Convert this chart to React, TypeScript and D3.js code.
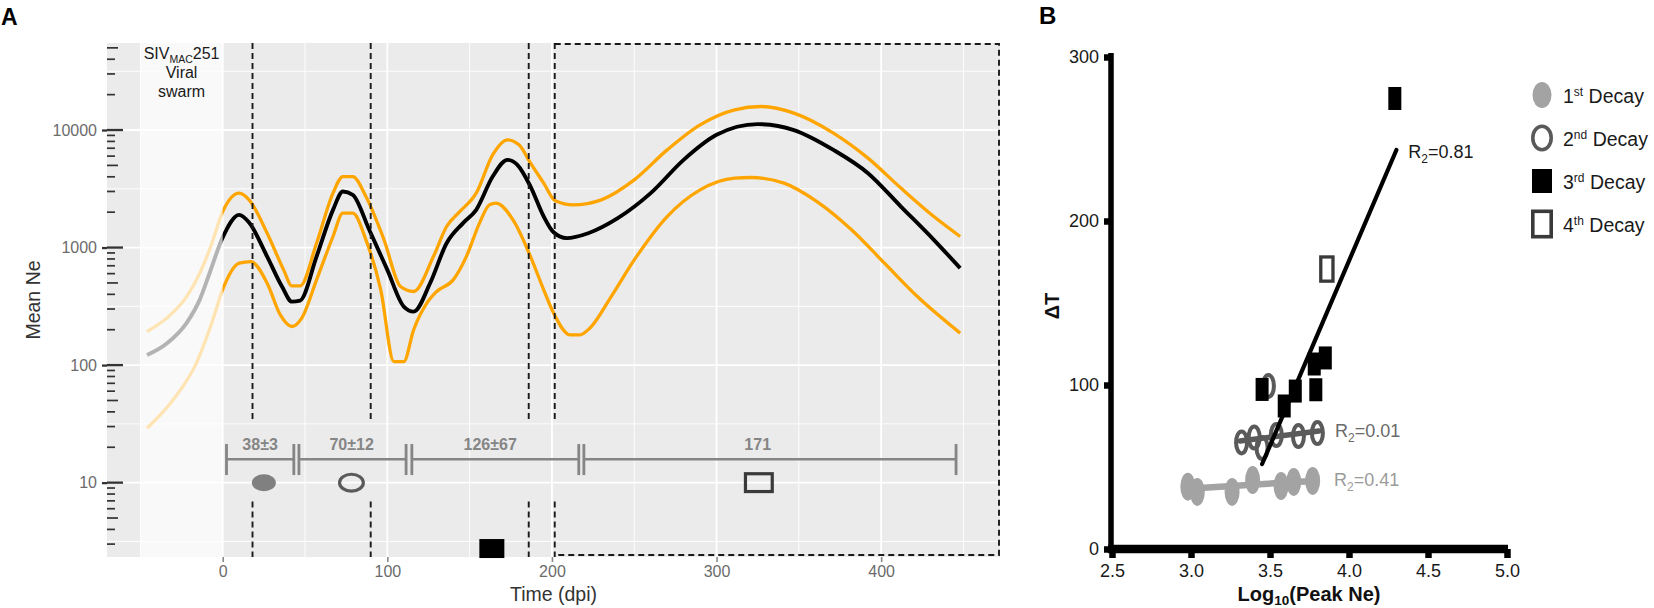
import * as d3 from "d3";
import { useEffect, useRef } from "react";

type Pt = [number, number];

// ---------- Panel A: effective population size over time (dpi, Ne) ----------
const meanNe: Pt[] = [
  [-46, 122], [-34, 153], [-22, 228], [-14, 359], [-8, 605], [0, 1220],
  [10, 1897], [16, 1633], [27, 838], [36, 466], [42, 347], [47, 354],
  [57, 838], [67, 2094], [73, 3000], [79, 2812], [89, 1416], [100, 646],
  [110, 315], [116, 285], [126, 498], [136, 1089], [146, 1614], [154, 2094],
  [164, 4018], [173, 5572], [179, 5058], [187, 3304], [195, 1837], [201, 1349],
  [209, 1202], [222, 1324], [240, 1778], [260, 2904], [280, 5572], [300, 9099],
  [325, 11220], [347, 10000], [371, 6776], [392, 4295], [412, 2234], [432, 1164],
  [448, 668],
];

const upperNe: Pt[] = [
  [-46, 193], [-34, 251], [-22, 380], [-14, 603], [-7, 1047], [0, 2023],
  [10, 2904], [16, 2547], [27, 1324], [37, 646], [42, 472], [47, 472],
  [57, 1089], [67, 2904], [73, 4018], [79, 4018], [87, 2716], [98, 1164],
  [108, 466], [116, 423], [128, 838], [136, 1510], [144, 2023], [154, 2904],
  [164, 6152], [173, 8260], [180, 7482], [187, 5224], [195, 3532], [202, 2500],
  [213, 2307], [230, 2547], [250, 3767], [270, 6776], [290, 11066], [311, 14860],
  [327, 15850], [347, 13930], [371, 9419], [392, 5768], [412, 3206], [432, 1837],
  [448, 1242],
];

const lowerNe: Pt[] = [
  [-46, 29], [-30, 51], [-16, 104], [-6, 243], [0, 440], [10, 736],
  [17, 760], [27, 498], [35, 267], [42, 213], [48, 251], [57, 531],
  [67, 1242], [73, 1963], [79, 1963], [87, 1164], [96, 437], [104, 107],
  [110, 107], [116, 200], [124, 337], [130, 423], [140, 531], [148, 838],
  [156, 1614], [162, 2307], [166, 2388], [177, 1663], [187, 838], [195, 437],
  [201, 277], [211, 181], [217, 181], [223, 206], [236, 383], [250, 785],
  [270, 1837], [290, 3097], [311, 3899], [321, 3945], [341, 3532], [361, 2460],
  [382, 1416], [402, 736], [422, 383], [448, 187],
];

const swarmRange = [-50, 0];
const decayBoundaries = [18.1, 89.9, 185.9];
const lateBoxStart = 201.7;
const dashGapNe = [33, 6.9];

const intervalStart = [2.3, 46.3, 114.9, 219.4];
const intervalEnd = [43.2, 111.4, 216.3, 445.5];
const intervalLabel = ["38±3", "70±12", "126±67", "171"];
const intervalLabelDpi = [22.7, 78.3, 162.5, 325];
const intervalNe = 15.8;
const intervalCapNe = [21.3, 11.6];
const intervalLabelNe = 19;

const decayMarkerDpi = [25, 78.2, 163.5, 325.7];
const decayMarkerNe = [10, 10, 2.75, 10];

const xTicksA = [0, 100, 200, 300, 400];
const xMinorA = [-50, 50, 150, 250, 350, 450];
const yTicksA = [10, 100, 1000, 10000];

// ---------- Panel B: decay duration vs peak Ne ----------
const decayOrdinal = ["st", "nd", "rd", "th"];
const decay1: Pt[] = [[2.98, 38], [3.04, 34.8], [3.26, 34.8], [3.39, 42], [3.57, 38.4], [3.65, 40.9], [3.77, 41.5]];
const decay2: Pt[] = [[3.32, 65], [3.4, 68], [3.45, 61.6], [3.49, 99.4], [3.54, 69.5], [3.68, 68.9], [3.8, 70.7]];
const decay3: Pt[] = [[3.45, 97.3], [3.59, 87.2], [3.66, 96.3], [3.79, 97.1], [3.78, 112.8], [3.85, 116.5], [4.29, 274.7]];
const decay4: Pt[] = [[3.86, 170.7]];
const fit1: Pt[] = [[2.98, 36.8], [3.77, 41.5]];
const fit2: Pt[] = [[3.31, 65.9], [3.81, 71.9]];
const fit3: Pt[] = [[3.45, 51.8], [4.3, 243.3]];
const r2Values = ["0.41", "0.01", "0.81"];
const r2Anchor: Pt[] = [[3.905, 38.6], [3.911, 68.1], [4.375, 238.2]];
const xTicksB = [2.5, 3, 3.5, 4, 4.5, 5];
const yTicksB = [0, 100, 200, 300];

const FONT = "'Liberation Sans', Arial, Helvetica, sans-serif";

type Sel = d3.Selection<SVGGElement, unknown, null, undefined>;

function marker(g: Sel, kind: number, cx: number, cy: number, w: number, h: number, sw: number) {
  if (kind === 0) {
    g.append("ellipse").attr("cx", cx).attr("cy", cy).attr("rx", w / 2).attr("ry", h / 2).attr("fill", "#a3a3a3");
  } else if (kind === 1) {
    g.append("ellipse").attr("cx", cx).attr("cy", cy).attr("rx", (w - sw) / 2).attr("ry", (h - sw) / 2)
      .attr("fill", "none").attr("stroke", "#5a5a5a").attr("stroke-width", sw);
  } else if (kind === 2) {
    g.append("rect").attr("x", cx - w / 2).attr("y", cy - h / 2).attr("width", w).attr("height", h).attr("fill", "#000");
  } else {
    g.append("rect").attr("x", cx - (w - sw) / 2).attr("y", cy - (h - sw) / 2).attr("width", w - sw).attr("height", h - sw)
      .attr("fill", "none").attr("stroke", "#3a3a3a").attr("stroke-width", sw);
  }
}

export default function App() {
  const ref = useRef<SVGSVGElement>(null);

  useEffect(() => {
    if (!ref.current) return;
    const svg = d3.select(ref.current);
    svg.selectAll("*").remove();
    svg.attr("width", 1654).attr("height", 608).attr("viewBox", "0 0 1654 608").style("font-family", FONT);
    svg.append("rect").attr("width", 1654).attr("height", 608).attr("fill", "#fff");

    // ================= Panel A =================
    const xA = d3.scaleLinear().domain([-70.3, 472.2]).range([107, 1000]);
    const yA = d3.scaleLog().domain([2.33, 55000]).range([557, 43]);
    const [l, r] = xA.range();
    const [b, t] = yA.range();
    const A = svg.append("g");

    A.append("rect").attr("x", l).attr("y", t).attr("width", r - l).attr("height", b - t).attr("fill", "#ebebeb");

    const yMinorA = [Math.sqrt(10), ...yTicksA.map((v) => v * Math.sqrt(10))];
    A.append("g").selectAll("line").data(yMinorA).join("line")
      .attr("x1", l).attr("x2", r).attr("y1", (d) => yA(d)).attr("y2", (d) => yA(d))
      .attr("stroke", "#fff").attr("stroke-width", 0.9);
    A.append("g").selectAll("line").data(xMinorA).join("line")
      .attr("x1", (d) => xA(d)).attr("x2", (d) => xA(d)).attr("y1", t).attr("y2", b)
      .attr("stroke", "#fff").attr("stroke-width", 0.9);
    A.append("g").selectAll("line").data(yTicksA).join("line")
      .attr("x1", l).attr("x2", r).attr("y1", (d) => yA(d)).attr("y2", (d) => yA(d))
      .attr("stroke", "#fff").attr("stroke-width", 1.8);
    A.append("g").selectAll("line").data(xTicksA).join("line")
      .attr("x1", (d) => xA(d)).attr("x2", (d) => xA(d)).attr("y1", t).attr("y2", b)
      .attr("stroke", "#fff").attr("stroke-width", 1.8);

    const line = d3.line<Pt>().x((d) => xA(d[0])).y((d) => yA(d[1])).curve(d3.curveMonotoneX);
    [lowerNe, upperNe].forEach((s) =>
      A.append("path").datum(s).attr("d", line).attr("fill", "none").attr("stroke", "#ffa500")
        .attr("stroke-width", 3.3).attr("stroke-linejoin", "round")
    );
    A.append("path").datum(meanNe).attr("d", line).attr("fill", "none").attr("stroke", "#000")
      .attr("stroke-width", 3.9).attr("stroke-linejoin", "round");

    // faded viral swarm region
    A.append("rect").attr("x", xA(swarmRange[0])).attr("y", t)
      .attr("width", xA(swarmRange[1]) - xA(swarmRange[0])).attr("height", b - t)
      .attr("fill", "#fff").attr("opacity", 0.7);

    // dashed separators
    const dash = { stroke: "#1a1a1a", w: 1.9, d: "6,4" };
    [...decayBoundaries, lateBoxStart].forEach((v) => {
      [[t, yA(dashGapNe[0])], [yA(dashGapNe[1]), b]].forEach(([y1, y2]) =>
        A.append("line").attr("x1", xA(v)).attr("x2", xA(v)).attr("y1", y1).attr("y2", y2)
          .attr("stroke", dash.stroke).attr("stroke-width", dash.w).attr("stroke-dasharray", dash.d)
      );
    });
    A.append("path")
      .attr("d", `M${xA(lateBoxStart)},${t + 1}H${r - 1}V${b - 2}H${xA(lateBoxStart)}`)
      .attr("fill", "none").attr("stroke", dash.stroke).attr("stroke-width", dash.w).attr("stroke-dasharray", dash.d);

    // decay interval bars
    const ig = A.append("g").attr("stroke", "#858585");
    intervalStart.forEach((s, i) => {
      const e = intervalEnd[i];
      ig.append("line").attr("x1", xA(s)).attr("x2", xA(e)).attr("y1", yA(intervalNe)).attr("y2", yA(intervalNe))
        .attr("stroke-width", 2.4);
      [s, e].forEach((v) =>
        ig.append("line").attr("x1", xA(v)).attr("x2", xA(v))
          .attr("y1", yA(intervalCapNe[0])).attr("y2", yA(intervalCapNe[1])).attr("stroke-width", 2.8)
      );
      A.append("text").attr("x", xA(intervalLabelDpi[i])).attr("y", yA(intervalLabelNe))
        .attr("text-anchor", "middle").attr("font-size", 16).attr("font-weight", "bold")
        .attr("fill", "#858585").text(intervalLabel[i]);
    });

    const mg = A.append("g");
    const markerSizeA: Pt[] = [[24, 17], [27, 20], [25, 19], [30, 21]];
    decayMarkerDpi.forEach((v, i) => {
      const g = mg as unknown as Sel;
      if (i === 0) {
        mg.append("ellipse").attr("cx", xA(v)).attr("cy", yA(decayMarkerNe[i]))
          .attr("rx", markerSizeA[i][0] / 2).attr("ry", markerSizeA[i][1] / 2).attr("fill", "#808080");
      } else {
        marker(g, i, xA(v), yA(decayMarkerNe[i]), markerSizeA[i][0], markerSizeA[i][1], 3.2);
      }
    });

    // swarm annotation
    const sw = A.append("text").attr("x", xA((swarmRange[0] + swarmRange[1]) / 2)).attr("y", 59)
      .attr("text-anchor", "middle").attr("font-size", 16).attr("fill", "#1a1a1a");
    sw.append("tspan").text("SIV");
    sw.append("tspan").attr("font-size", 10.5).attr("dy", 4).text("MAC");
    sw.append("tspan").attr("dy", -4).text("251");
    A.append("text").attr("x", xA(-25)).attr("y", 78).attr("text-anchor", "middle").attr("font-size", 16)
      .attr("fill", "#1a1a1a").text("Viral");
    A.append("text").attr("x", xA(-25)).attr("y", 97).attr("text-anchor", "middle").attr("font-size", 16)
      .attr("fill", "#1a1a1a").text("swarm");

    // y axis (labels + outer ticks)
    A.append("g").attr("transform", `translate(${l},0)`)
      .call(d3.axisLeft(yA).tickValues(yTicksA).tickFormat(d3.format("d")).tickSize(5).tickPadding(5))
      .call((g) => g.select(".domain").remove())
      .call((g) => g.selectAll("line").attr("stroke", "#333").attr("stroke-width", 2.3))
      .call((g) => g.selectAll("text").attr("font-size", 16).attr("fill", "#6b6b6b").attr("font-family", FONT));

    // log ticks inside panel
    const logTicks: { v: number; m: number }[] = [];
    for (let k = 0; k <= 4; k++) {
      for (let m = 1; m <= 9; m++) {
        const v = m * Math.pow(10, k);
        if (v >= yA.domain()[0] && v <= yA.domain()[1]) logTicks.push({ v, m });
      }
    }
    A.append("g").selectAll("line").data(logTicks).join("line")
      .attr("x1", l).attr("x2", (d) => l + (d.m === 1 ? 16 : d.m === 5 ? 11 : 8))
      .attr("y1", (d) => yA(d.v)).attr("y2", (d) => yA(d.v))
      .attr("stroke", "#333").attr("stroke-width", (d) => (d.m === 1 ? 2.3 : 1.7));

    // x axis
    A.append("g").attr("transform", `translate(0,${b})`)
      .call(d3.axisBottom(xA).tickValues(xTicksA).tickSize(5).tickPadding(4))
      .call((g) => g.select(".domain").remove())
      .call((g) => g.selectAll("line").attr("stroke", "#8a8a8a").attr("stroke-width", 1.6))
      .call((g) => g.selectAll("text").attr("font-size", 16).attr("fill", "#6b6b6b").attr("font-family", FONT));

    A.append("text").attr("x", (l + r) / 2).attr("y", 601).attr("text-anchor", "middle")
      .attr("font-size", 19.5).attr("fill", "#333").text("Time (dpi)");
    A.append("text").attr("transform", `translate(40,${(t + b) / 2}) rotate(-90)`).attr("text-anchor", "middle")
      .attr("font-size", 19.5).attr("fill", "#333").text("Mean Ne");
    svg.append("text").attr("x", 1).attr("y", 25).attr("font-size", 23).attr("font-weight", "bold")
      .attr("fill", "#000").text("A");

    // ================= Panel B =================
    const xB = d3.scaleLinear().domain([2.5, 5]).range([1112, 1507]);
    const yB = d3.scaleLinear().domain([0, 300]).range([549, 57]);
    const B = svg.append("g");

    B.append("g").attr("transform", "translate(1111,0)")
      .call(d3.axisLeft(yB).tickValues(yTicksB).tickSizeInner(7).tickSizeOuter(0).tickPadding(5))
      .call((g) => g.select(".domain").remove())
      .call((g) => g.selectAll("line").attr("stroke", "#000").attr("stroke-width", 6.5))
      .call((g) => g.selectAll("text").attr("font-size", 18).attr("fill", "#1a1a1a").attr("font-family", FONT));
    B.append("g").attr("transform", "translate(0,549)")
      .call(d3.axisBottom(xB).tickValues(xTicksB).tickFormat(d3.format(".1f")).tickSizeInner(9).tickSizeOuter(0).tickPadding(6))
      .call((g) => g.select(".domain").remove())
      .call((g) => g.selectAll("line").attr("stroke", "#000").attr("stroke-width", 6.5))
      .call((g) => g.selectAll("text").attr("font-size", 18).attr("fill", "#1a1a1a").attr("font-family", FONT));
    B.append("line").attr("x1", 1111).attr("x2", 1111).attr("y1", yB(300) - 4).attr("y2", yB(0))
      .attr("stroke", "#000").attr("stroke-width", 5.5);
    B.append("line").attr("x1", 1108).attr("x2", xB(5) + 1).attr("y1", yB(0)).attr("y2", yB(0))
      .attr("stroke", "#000").attr("stroke-width", 8.5);

    const pts = B.append("g") as unknown as Sel;
    const sizesB: Pt[] = [[15, 28], [15, 26], [13, 23], [15.5, 27.5]];
    const strokeB = [0, 4, 0, 3.3];
    [decay1, decay2, decay3, decay4].forEach((s, k) =>
      s.forEach((d) => marker(pts, k, xB(d[0]), yB(d[1]), sizesB[k][0], sizesB[k][1], strokeB[k]))
    );

    const lineB = d3.line<Pt>().x((d) => xB(d[0])).y((d) => yB(d[1]));
    const fitStyle = [
      { c: "#a3a3a3", w: 6.5 },
      { c: "#5a5a5a", w: 5.5 },
      { c: "#000", w: 4.2 },
    ];
    [fit1, fit2, fit3].forEach((f, i) =>
      B.append("path").datum(f).attr("d", lineB).attr("fill", "none")
        .attr("stroke", fitStyle[i].c).attr("stroke-width", fitStyle[i].w).attr("stroke-linecap", "round")
    );

    const r2Color = ["#9b9b9b", "#6a6a6a", "#1a1a1a"];
    r2Values.forEach((v, i) => {
      const tx = B.append("text").attr("x", xB(r2Anchor[i][0])).attr("y", yB(r2Anchor[i][1]))
        .attr("font-size", 18).attr("fill", r2Color[i]);
      tx.append("tspan").text("R");
      tx.append("tspan").attr("font-size", 12).attr("dy", 5).text("2");
      tx.append("tspan").attr("dy", -5).text(`=${v}`);
    });

    const xt = B.append("text").attr("x", 1309).attr("y", 601).attr("text-anchor", "middle")
      .attr("font-size", 20).attr("font-weight", "bold").attr("fill", "#111");
    xt.append("tspan").text("Log");
    xt.append("tspan").attr("font-size", 13.5).attr("dy", 4).text("10");
    xt.append("tspan").attr("dy", -4).text("(Peak Ne)");
    B.append("text").attr("transform", "translate(1059,306) rotate(-90)").attr("text-anchor", "middle")
      .attr("font-size", 20).attr("font-weight", "bold").attr("fill", "#111").text("ΔT");
    svg.append("text").attr("x", 1039).attr("y", 24).attr("font-size", 24).attr("font-weight", "bold")
      .attr("fill", "#000").text("B");

    // legend
    const lg = svg.append("g") as unknown as Sel;
    const legendSizes: Pt[] = [[19, 26], [22, 27], [20, 24], [22, 29]];
    decayOrdinal.forEach((o, i) => {
      const cy = 95 + i * 43;
      marker(lg, i, 1542, cy, legendSizes[i][0], legendSizes[i][1], 3.6);
      const tx = lg.append("text").attr("x", 1563).attr("y", cy + 7.5).attr("font-size", 19.5).attr("fill", "#1a1a1a");
      tx.append("tspan").text(String(i + 1));
      tx.append("tspan").attr("font-size", 12).attr("dy", -7).text(o);
      tx.append("tspan").attr("dy", 7).text(" Decay");
    });
  }, []);

  return (
    <div style={{ position: "absolute", left: 0, top: 0 }}>
      <svg ref={ref} role="img" aria-label="Ne trajectories and decay durations" />
    </div>
  );
}
